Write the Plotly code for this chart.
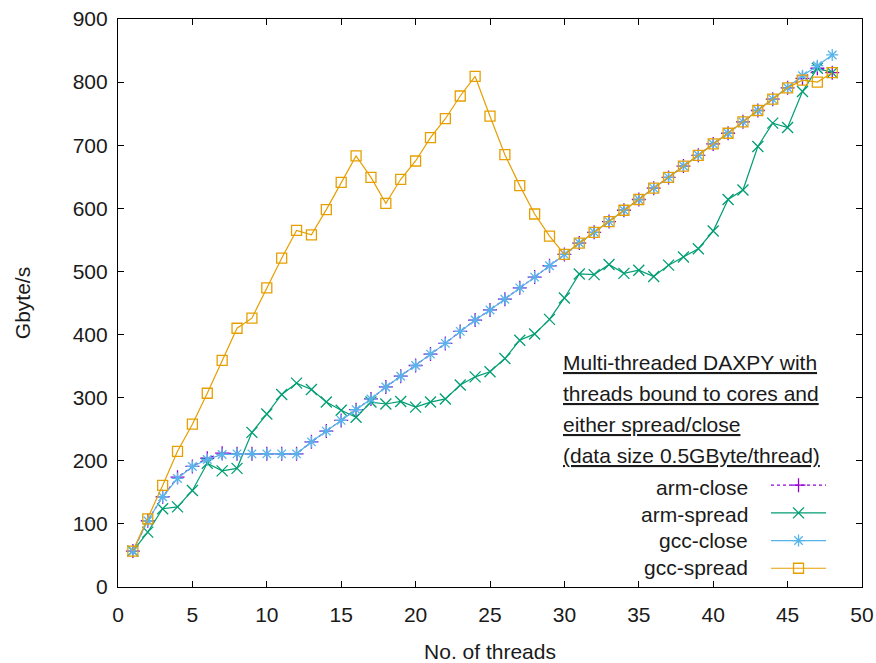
import plotly.graph_objects as go

threads = list(range(1, 49))

arm_close = [57, 105, 143, 174, 191, 204, 212, 211, 211, 211, 211, 211, 230, 247, 264, 281,
             298, 317, 334, 351, 369, 386, 405, 423, 439, 456, 474, 491, 509, 527, 545, 562,
             579, 597, 614, 632, 649, 667, 684, 702, 719, 737, 755, 773, 791, 806, 822, 815]
arm_spread = [57, 87, 124, 127, 153, 196, 184, 188, 245, 274, 305, 323, 313, 293, 280, 269,
              293, 290, 294, 285, 293, 298, 320, 333, 341, 362, 391, 401, 424, 458, 496, 495,
              511, 497, 502, 492, 510, 523, 536, 564, 614, 629, 698, 735, 728, 785, 822, 815]
gcc_close = [57, 105, 143, 172, 191, 202, 210, 211, 211, 211, 211, 211, 230, 247, 264, 281,
             298, 317, 334, 351, 369, 386, 405, 423, 439, 456, 474, 491, 509, 527, 545, 562,
             579, 597, 614, 632, 649, 667, 684, 702, 719, 737, 755, 773, 791, 810, 826, 843]
gcc_spread = [57, 108, 161, 215, 258, 307, 359, 410, 426, 474, 521, 565, 558, 598, 641, 683,
              649, 608, 646, 675, 712, 742, 778, 809, 746, 685, 636, 591, 556, 527, 545, 562,
              579, 597, 614, 632, 649, 667, 684, 702, 719, 737, 755, 773, 791, 803, 800, 815]

series_names = ["arm-close", "arm-spread", "gcc-close", "gcc-spread"]
series_values = [arm_close, arm_spread, gcc_close, gcc_spread]
colors = ["#9400D3", "#009E73", "#56B4E9", "#E69F00"]
symbols = ["cross-thin-open", "x-thin-open", "asterisk-open", "square-open"]
dashes = ["dot", "solid", "solid", "solid"]
msizes = [10, 11, 10, 10]

note_lines = ["Multi-threaded DAXPY with", "threads bound to cores and",
              "either spread/close", "(data size 0.5GByte/thread)"]

FONT = "Liberation Sans, Arial, sans-serif"
TXT = "#1a1a1a"

fig = go.Figure()
for name, vals, c, s, d, ms in zip(series_names, series_values, colors, symbols, dashes, msizes):
    fig.add_trace(go.Scatter(
        x=threads, y=vals, mode="lines+markers", name="",
        legendgroup=name, hovertemplate=name + ": %{y}<extra></extra>",
        line=dict(color=c, width=1.2, dash=d),
        marker=dict(symbol=s, size=ms, color=c, line=dict(color=c, width=1.3)),
    ))

# legend labels (right-aligned text left of samples, gnuplot style)
leg_y = [0.176, 0.128, 0.081, 0.034]
for name, yy in zip(series_names, leg_y):
    fig.add_annotation(x=0.85, y=yy, xref="paper", yref="paper", text=name,
                       showarrow=False, xanchor="right", yanchor="middle",
                       font=dict(family=FONT, size=21, color=TXT))

# note text, underlined
note_y = [0.395, 0.340, 0.286, 0.232]
for line, yy in zip(note_lines, note_y):
    fig.add_annotation(x=0.596, y=yy, xref="paper", yref="paper", text="<u>" + line + "</u>",
                       showarrow=False, xanchor="left", yanchor="middle", align="left",
                       font=dict(family=FONT, size=21, color=TXT))

axis_common = dict(showline=True, linecolor="black", linewidth=1.2, mirror="allticks",
                   ticks="inside", ticklen=6, tickcolor="black", tickwidth=1,
                   showgrid=False, zeroline=False,
                   tickfont=dict(family=FONT, size=21, color=TXT))

fig.update_xaxes(range=[0, 50], dtick=5, tick0=0, ticklabelstandoff=9,
                 title=dict(text="No. of threads", font=dict(family=FONT, size=21, color=TXT), standoff=19),
                 **axis_common)
fig.update_yaxes(range=[0, 900], dtick=100, tick0=0, ticklabelstandoff=5,
                 title=dict(text="Gbyte/s", font=dict(family=FONT, size=21, color=TXT), standoff=36),
                 **axis_common)

fig.update_layout(
    width=876, height=663,
    margin=dict(l=118, r=14, t=19, b=76, autoexpand=False),
    paper_bgcolor="white", plot_bgcolor="white",
    showlegend=True,
    legend=dict(x=0.871, y=0.2125, xanchor="left", yanchor="top", bgcolor="rgba(0,0,0,0)",
                itemwidth=55, font=dict(family=FONT, size=19), tracegroupgap=0,
                itemclick=False, itemdoubleclick=False),
    font=dict(family=FONT, color=TXT),
)

fig.write_html("out.html")
